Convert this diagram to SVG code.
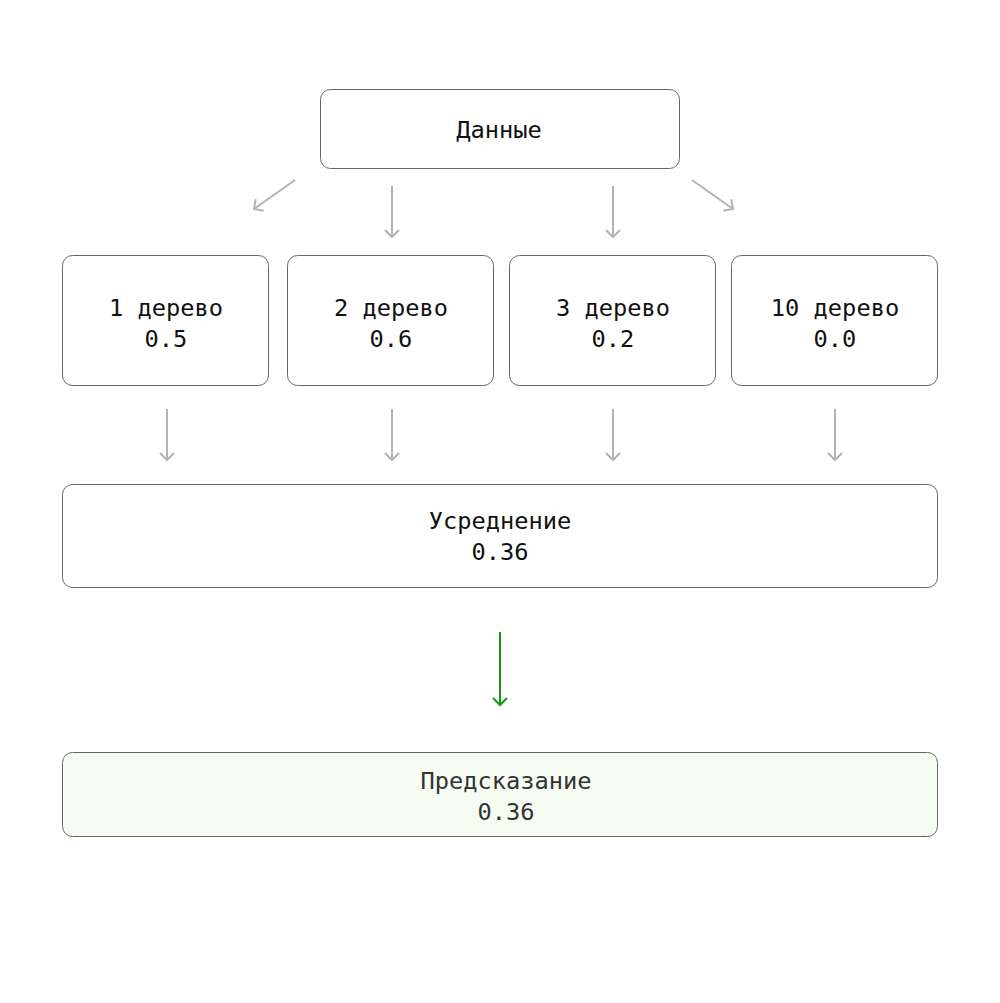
<svg xmlns="http://www.w3.org/2000/svg" width="1000" height="1003" viewBox="0 0 1000 1003">
<style>
.box{fill:#fff;stroke:#666;stroke-width:1}
.pred{fill:#f7fcf3;stroke:#666;stroke-width:1}
.t{font-family:"DejaVu Sans Mono","Liberation Mono",monospace;font-size:23.7px;fill:#111;text-anchor:middle;dominant-baseline:central}
.tp{fill:#333}
.a{stroke:#b3b3b3;stroke-width:2;fill:none;marker-end:url(#mg)}
.ag{stroke:#109a10;stroke-width:2;fill:none;marker-end:url(#mgr)}
</style>
<defs>
<marker id="mg" viewBox="0 0 20 20" refX="10" refY="10" markerWidth="20" markerHeight="20" markerUnits="userSpaceOnUse" orient="auto">
<path d="M3,3 L10,10 L3,17" fill="none" stroke="#b3b3b3" stroke-width="2"/>
</marker>
<marker id="mgr" viewBox="0 0 20 20" refX="10" refY="10" markerWidth="20" markerHeight="20" markerUnits="userSpaceOnUse" orient="auto">
<path d="M3,3 L10,10 L3,17" fill="none" stroke="#109a10" stroke-width="2"/>
</marker>
</defs>
<rect width="1000" height="1003" fill="#fff"/>
<g id="connectors">
<line class="a" x1="295" y1="180" x2="254" y2="209"/>
<line class="a" x1="392" y1="186" x2="392" y2="237"/>
<line class="a" x1="613" y1="186" x2="613" y2="237"/>
<line class="a" x1="692" y1="180" x2="733" y2="209"/>
<line class="a" x1="167" y1="409" x2="167" y2="460"/>
<line class="a" x1="392" y1="409" x2="392" y2="460"/>
<line class="a" x1="613" y1="409" x2="613" y2="460"/>
<line class="a" x1="835" y1="409" x2="835" y2="460"/>
<line class="ag" x1="500" y1="632" x2="500" y2="705"/>
</g>
<g id="data">
<rect class="box" x="320.5" y="89.5" width="359" height="79" rx="10"/>
<text class="t" x="499" y="130">Данные</text>
</g>
<g id="tree1">
<rect class="box" x="62.5" y="255.5" width="206" height="130" rx="10"/>
<text class="t" x="166" y="308">1 дерево</text>
<text class="t" x="166" y="339">0.5</text>
</g>
<g id="tree2">
<rect class="box" x="287.5" y="255.5" width="206" height="130" rx="10"/>
<text class="t" x="391" y="308">2 дерево</text>
<text class="t" x="391" y="339">0.6</text>
</g>
<g id="tree3">
<rect class="box" x="509.5" y="255.5" width="206" height="130" rx="10"/>
<text class="t" x="613" y="308">3 дерево</text>
<text class="t" x="613" y="339">0.2</text>
</g>
<g id="tree10">
<rect class="box" x="731.5" y="255.5" width="206" height="130" rx="10"/>
<text class="t" x="835" y="308">10 дерево</text>
<text class="t" x="835" y="339">0.0</text>
</g>
<g id="avg">
<rect class="box" x="62.5" y="484.5" width="875" height="103" rx="10"/>
<text class="t" x="500" y="521">Усреднение</text>
<text class="t" x="500" y="552">0.36</text>
</g>
<g id="prediction">
<rect class="pred" x="62.5" y="752.5" width="875" height="84" rx="10"/>
<text class="t tp" x="506" y="781">Предсказание</text>
<text class="t tp" x="506" y="812">0.36</text>
</g>
</svg>
